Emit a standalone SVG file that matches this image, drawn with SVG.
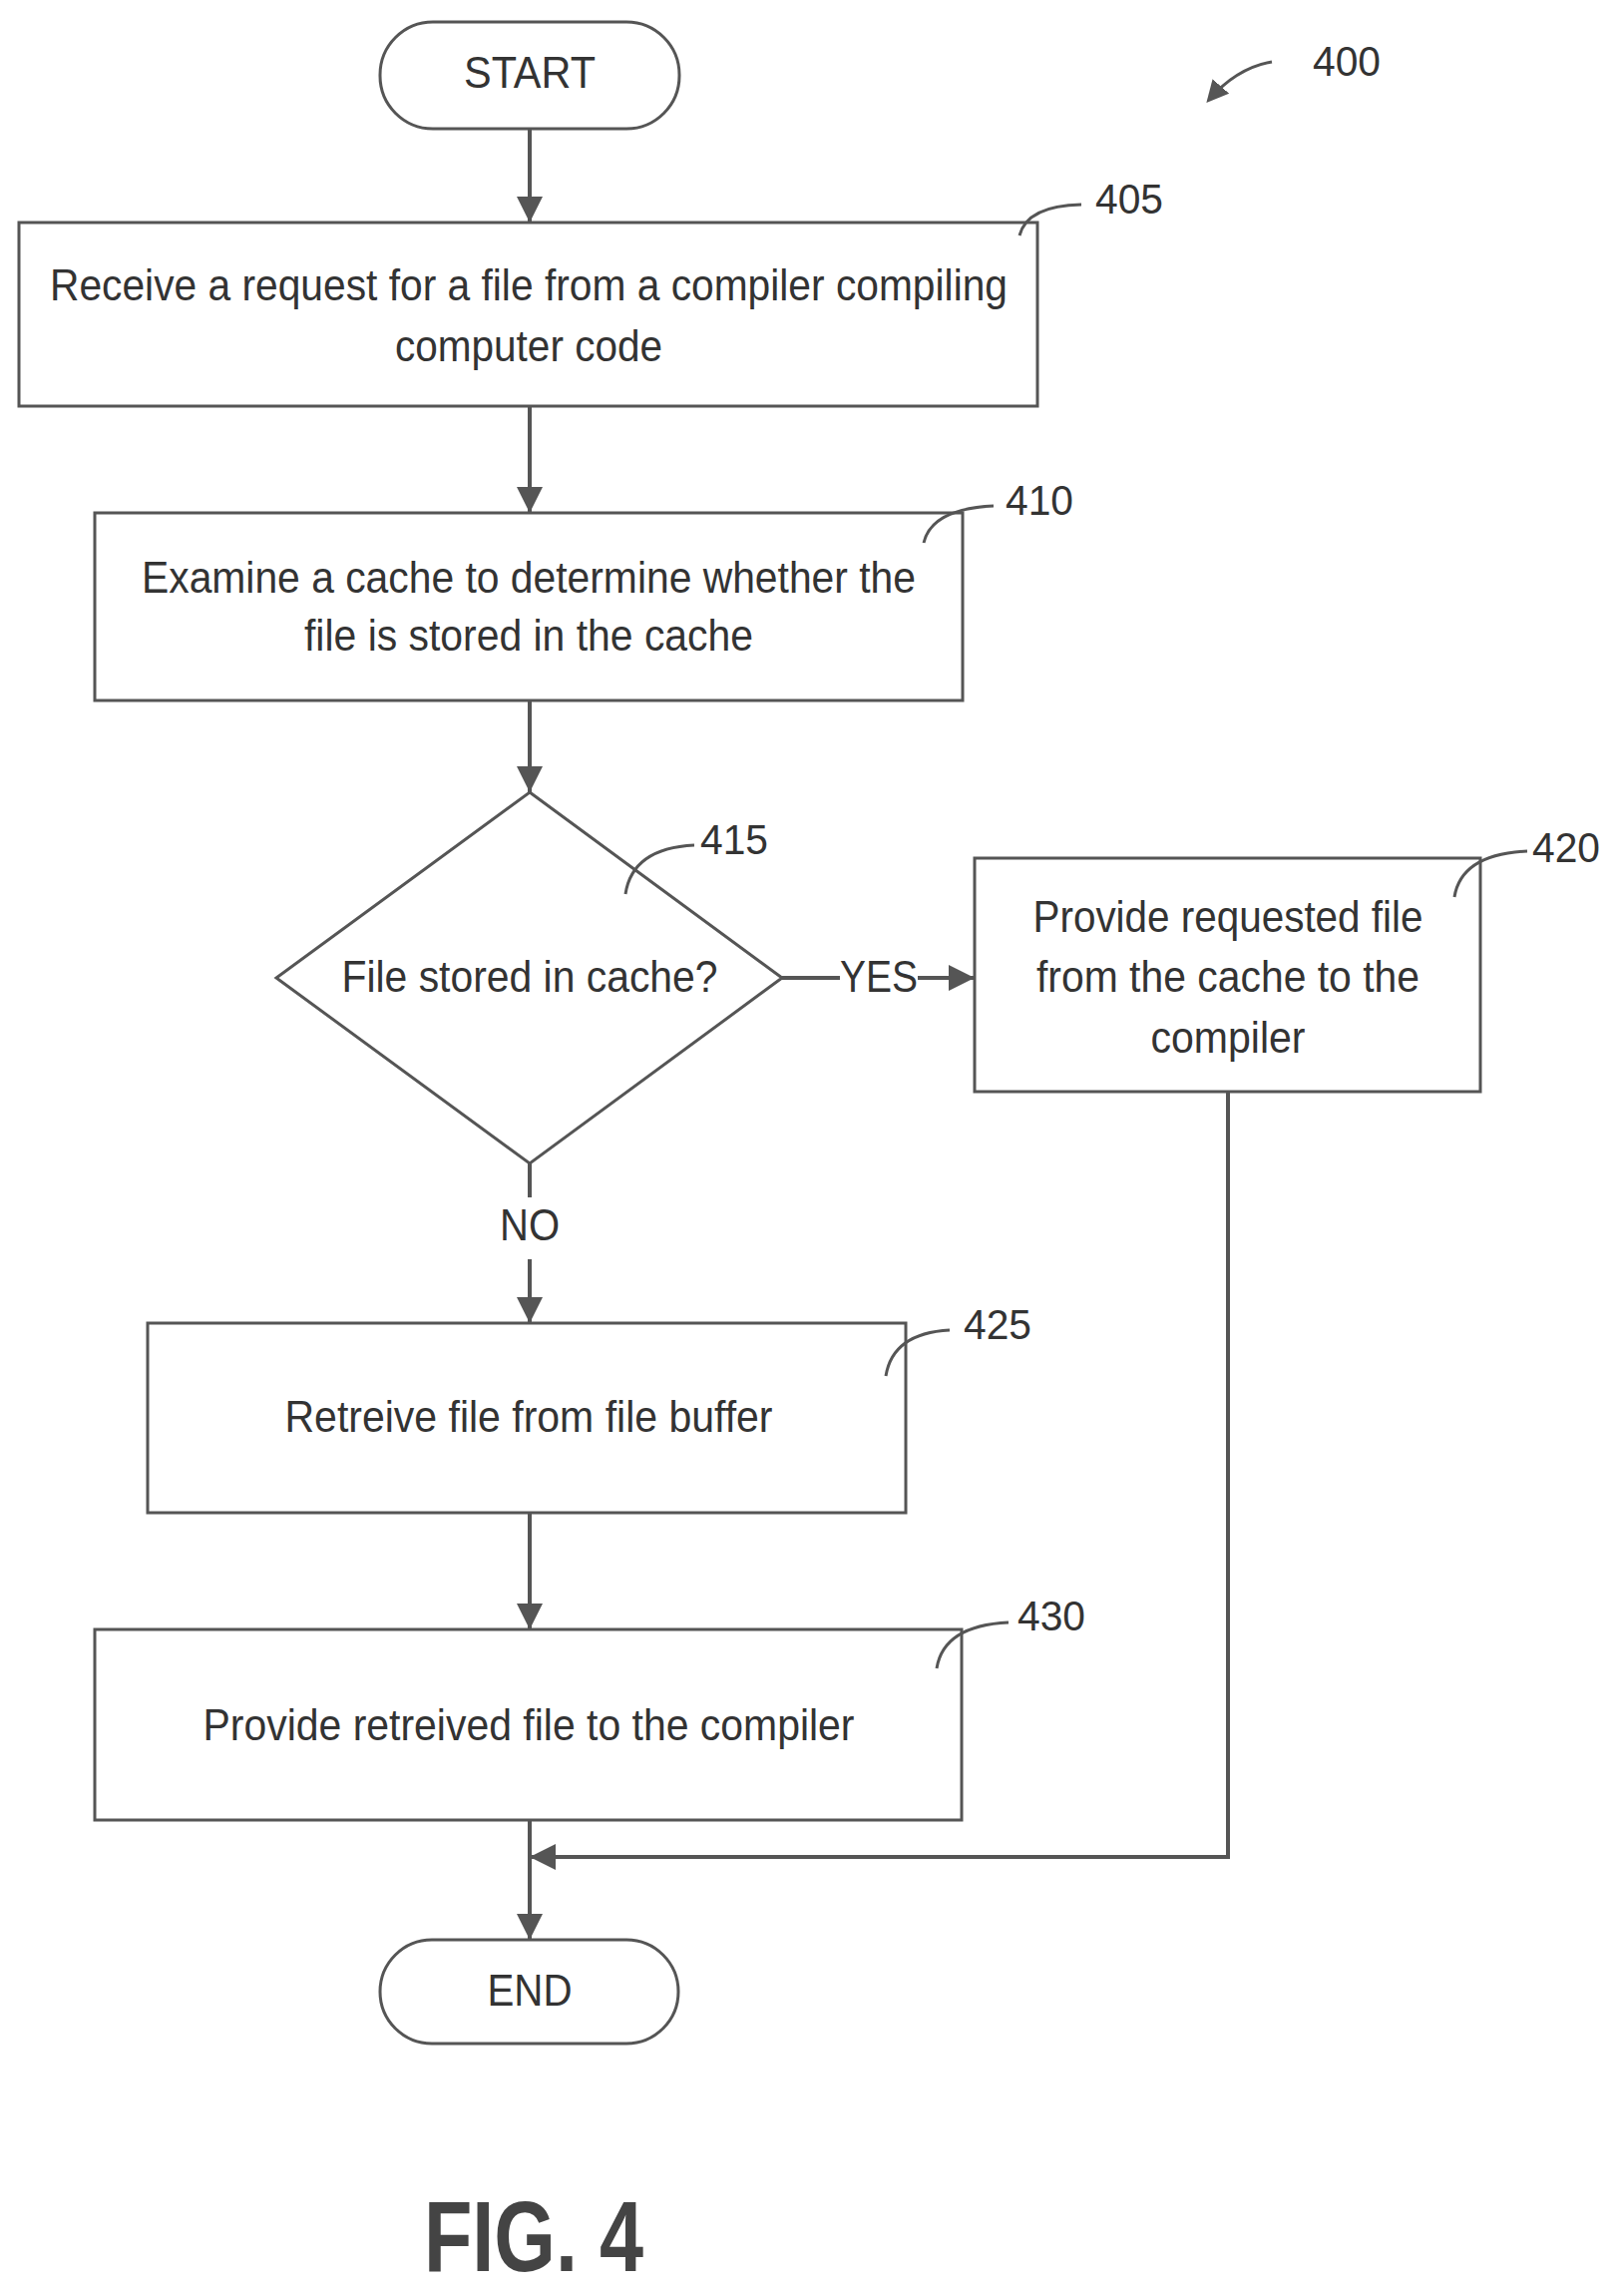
<svg xmlns="http://www.w3.org/2000/svg" width="1626" height="2301" viewBox="0 0 1626 2301">
<style>
.s{fill:#fff;stroke:#555;stroke-width:3}
.t{font-family:"Liberation Sans",Arial,sans-serif;font-size:44px;fill:#333;text-anchor:middle}
.r{font-family:"Liberation Sans",Arial,sans-serif;font-size:42px;fill:#333}
.c{fill:none;stroke:#555;stroke-width:4}
.l{fill:none;stroke:#555;stroke-width:3}
</style>
<defs><marker id="a" markerWidth="22" markerHeight="22" refX="18" refY="11" orient="auto" markerUnits="userSpaceOnUse" viewBox="0 0 22 22"><path d="M0,0L22,11L0,22z" fill="#555"/></marker>
<marker id="b" markerWidth="26" markerHeight="26" refX="26" refY="13" orient="auto" markerUnits="userSpaceOnUse" viewBox="0 0 26 26"><path d="M0,0L26,13L0,26z" fill="#555"/></marker></defs>
<g id="start"><rect class="s" x="381" y="22" width="300" height="107" rx="53"/><text class="t" x="531" y="88" textLength="132" lengthAdjust="spacingAndGlyphs">START</text></g>
<g id="n405"><rect class="s" x="19" y="223" width="1021" height="184"/><text class="t" x="530" y="301" textLength="960" lengthAdjust="spacingAndGlyphs">Receive a request for a file from a compiler compiling</text><text class="t" x="530" y="362" textLength="268" lengthAdjust="spacingAndGlyphs">computer code</text></g>
<g id="n410"><rect class="s" x="95" y="514" width="870" height="188"/><text class="t" x="530" y="594" textLength="776" lengthAdjust="spacingAndGlyphs">Examine a cache to determine whether the</text><text class="t" x="530" y="652" textLength="450" lengthAdjust="spacingAndGlyphs">file is stored in the cache</text></g>
<g id="n415"><path class="s" d="M531,794L784,980L531,1166L277,980Z"/><text class="t" x="531" y="994" textLength="377" lengthAdjust="spacingAndGlyphs">File stored in cache?</text></g>
<g id="n420"><rect class="s" x="977" y="860" width="507" height="234"/><text class="t" x="1231" y="934" textLength="391" lengthAdjust="spacingAndGlyphs">Provide requested file</text><text class="t" x="1231" y="994" textLength="384" lengthAdjust="spacingAndGlyphs">from the cache to the</text><text class="t" x="1231" y="1055" textLength="155" lengthAdjust="spacingAndGlyphs">compiler</text></g>
<g id="n425"><rect class="s" x="148" y="1326" width="760" height="190"/><text class="t" x="530" y="1435" textLength="489" lengthAdjust="spacingAndGlyphs">Retreive file from file buffer</text></g>
<g id="n430"><rect class="s" x="95" y="1633" width="869" height="191"/><text class="t" x="530" y="1744" textLength="653" lengthAdjust="spacingAndGlyphs">Provide retreived file to the compiler</text></g>
<g id="end"><rect class="s" x="381" y="1944" width="299" height="104" rx="52"/><text class="t" x="531" y="2010" textLength="85" lengthAdjust="spacingAndGlyphs">END</text></g>
<g id="connectors">
<path class="c" d="M531,129V223" marker-end="url(#b)"/>
<path class="c" d="M531,407V514" marker-end="url(#b)"/>
<path class="c" d="M531,702V794" marker-end="url(#b)"/>
<path class="c" d="M784,980H842"/>
<text class="t" x="881" y="994" textLength="78" lengthAdjust="spacingAndGlyphs">YES</text>
<path class="c" d="M920,980H977" marker-end="url(#b)"/>
<path class="c" d="M531,1166V1200"/>
<text class="t" x="531" y="1243" textLength="60" lengthAdjust="spacingAndGlyphs">NO</text>
<path class="c" d="M531,1262V1326" marker-end="url(#b)"/>
<path class="c" d="M531,1516V1633" marker-end="url(#b)"/>
<path class="c" d="M531,1824V1944" marker-end="url(#b)"/>
<path class="c" d="M1231,1094V1861H531" marker-end="url(#b)"/>
</g>
<g id="refs">
<path class="l" d="M1275,62Q1240,68 1212,100" marker-end="url(#a)"/><text class="r" x="1316" y="76" textLength="68" lengthAdjust="spacingAndGlyphs">400</text>
<path class="l" d="M1022,236Q1030,206 1084,205"/><text class="r" x="1098" y="214" textLength="68" lengthAdjust="spacingAndGlyphs">405</text>
<path class="l" d="M926,544Q934,510 996,507"/><text class="r" x="1008" y="516" textLength="68" lengthAdjust="spacingAndGlyphs">410</text>
<path class="l" d="M627,896Q634,850 696,847"/><text class="r" x="702" y="856" textLength="68" lengthAdjust="spacingAndGlyphs">415</text>
<path class="l" d="M1458,899Q1465,856 1531,853"/><text class="r" x="1536" y="864" textLength="68" lengthAdjust="spacingAndGlyphs">420</text>
<path class="l" d="M888,1379Q895,1336 952,1333"/><text class="r" x="966" y="1342" textLength="68" lengthAdjust="spacingAndGlyphs">425</text>
<path class="l" d="M939,1672Q946,1629 1011,1626"/><text class="r" x="1020" y="1634" textLength="68" lengthAdjust="spacingAndGlyphs">430</text>
</g>
<text x="535" y="2276" textLength="220" lengthAdjust="spacingAndGlyphs" style="font-family:'Liberation Sans',Arial,sans-serif;font-weight:bold;font-size:100px;fill:#444;text-anchor:middle">FIG. 4</text>
</svg>
